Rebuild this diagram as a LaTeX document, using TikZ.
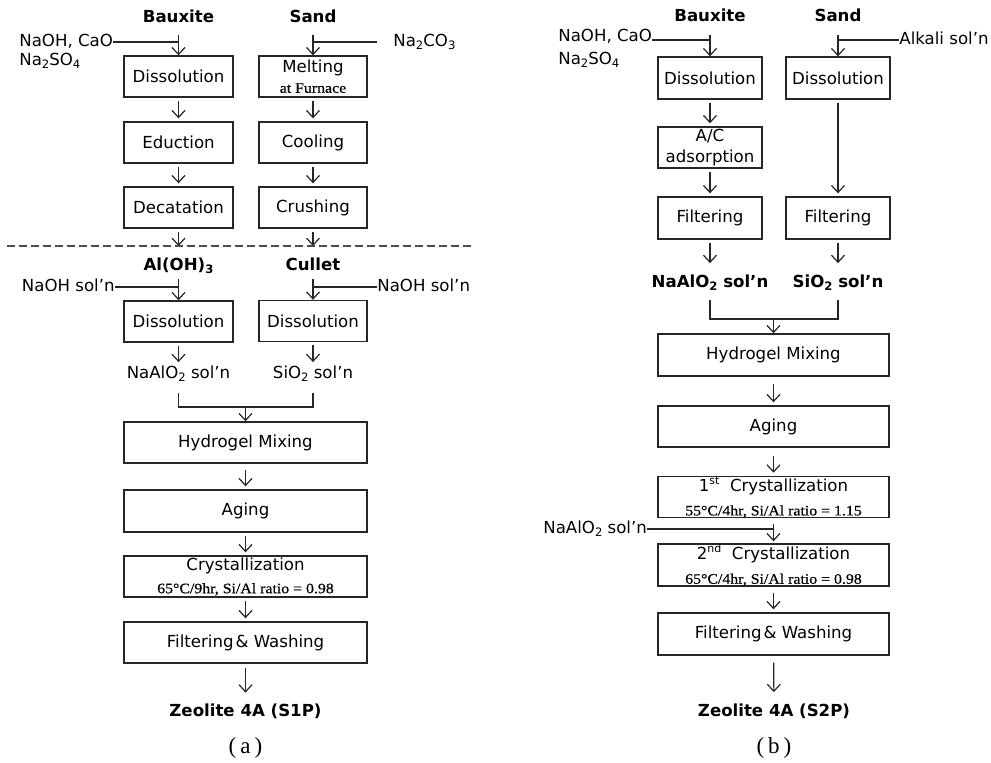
\documentclass[tikz,border=0pt]{standalone}
\usepackage{fontspec}
\setmainfont{DejaVu Sans}
\newfontfamily\serifsmall[FakeStretch=1.1,FakeBold=0.6]{Liberation Serif}
\newfontfamily\capfont{Liberation Serif}
\usetikzlibrary{arrows.meta}
\newcommand\mysub[1]{\raisebox{-0.35ex}{\fontsize{5.8}{6}\selectfont #1}}
\newcommand\mysup[1]{\raisebox{0.8ex}{\fontsize{5.5}{6}\selectfont #1}}
\newcommand\smf{\serifsmall\fontsize{7.2}{8}\selectfont}
\begin{document}
\begin{tikzpicture}[x=0.5pt,y=-0.5pt,
  font=\fontsize{8.3}{10}\selectfont,
  txt/.style={inner sep=0pt, text height=6pt, text depth=1.5pt},
  bl/.style={txt, font=\fontsize{8.3}{10}\selectfont\bfseries},
  capt/.style={inner sep=0pt, font=\capfont\fontsize{11.5}{12}\selectfont},
  box/.style={draw=black!85, line width=0.7pt, inner sep=0pt, align=center, minimum height=20.5pt},
  wA/.style={minimum width=54.5pt},
  wB/.style={minimum width=54pt},
  wH/.style={minimum width=121.5pt},
  wC/.style={minimum width=52pt},
  wK/.style={minimum width=115.5pt},
  ln/.style={line width=0.6pt, draw=black!85},
  arr/.style={line width=0.6pt, draw=black!85, -{Straight Barb[length=3.5pt,width=6.5pt]}, shorten <=1.5pt, shorten >=1.5pt},
  dashline/.style={line width=0.6pt, draw=black!70, dash pattern=on 4pt off 2pt},
]
\useasboundingbox (0,0) rectangle (991,762);

% ================= (a) =================
\node[bl] (bx1) at (178.5,18) {Bauxite};
\node[bl] (sd1) at (313,18) {Sand};
\node[txt, anchor=west] (f1) at (19,42) {NaOH, CaO};
\node[txt, anchor=west] (f1b) at (19,61) {Na\mysub{2}SO\mysub{4}};
\node[txt, anchor=west] (f2) at (393,42) {Na\mysub{2}CO\mysub{3}};
\coordinate (j1) at (178.5,42);
\coordinate (j2) at (313,42);
\node[box,wA] (a1) at (178.5,76.5) {Dissolution};
\node[box,wA] (a2) at (178.5,142.5) {Eduction};
\node[box,wA] (a3) at (178.5,207.5) {Decatation};
\node[box,wB] (b1) at (313,76.5) {Melting\\{\smf at Furnace}};
\node[box,wB] (b2) at (313,142.5) {Cooling};
\node[box,wB] (b3) at (313,207.5) {Crushing};
\draw[ln] (f1.east) -- (j1);
\draw[ln] ([xshift=-8pt]f2.west) -- (j2);
\draw[arr, shorten <=4.75pt, shorten >=0pt] (bx1) -- (a1);
\draw[arr, shorten <=4.75pt, shorten >=0pt] (sd1) -- (b1);
\draw[arr] (a1) -- (a2);
\draw[arr] (a2) -- (a3);
\draw[arr] (b1) -- (b2);
\draw[arr] (b2) -- (b3);
\coordinate (d1) at (178.5,246);
\coordinate (d2) at (313,246);
\draw[arr, shorten >=0pt] (a3) -- (d1);
\draw[arr, shorten >=0pt] (b3) -- (d2);
\coordinate (dl) at (7,246);
\coordinate (dr) at (472,246);
\draw[dashline] (dl) -- (dr);

\node[bl] (al) at (178.5,266) {Al(OH)\mysub{3}};
\node[bl] (cu) at (313,266) {Cullet};
\node[txt, anchor=east] (f3) at (115,287) {NaOH sol’n};
\node[txt, anchor=west] (f4) at (377,287) {NaOH sol’n};
\coordinate (j3) at (178.5,287);
\coordinate (j4) at (313,287);
\draw[ln] (f3.east) -- (j3);
\draw[ln] (f4.west) -- (j4);
\node[box,wA] (a4) at (178.5,321.5) {Dissolution};
\node[box,wB] (b4) at (313,321) {Dissolution};
\draw[arr, shorten <=2.5pt, shorten >=0pt] (al) -- (a4);
\draw[arr, shorten <=2.5pt, shorten >=0pt] (cu) -- (b4);
\node[txt] (n1) at (178.5,374) {NaAlO\mysub{2} sol’n};
\node[txt] (s1) at (313,374) {SiO\mysub{2} sol’n};
\draw[arr, shorten >=2pt] (a4) -- (n1);
\draw[arr, shorten >=2pt] (b4) -- (s1);
\coordinate (m1) at (178.5,407);
\coordinate (m2) at (313,407);
\coordinate (m3) at (245.5,407);
\draw[ln] ([yshift=-5.75pt]n1.south) -- (m1) -- (m2) -- ([yshift=-5.75pt]s1.south);
\node[box,wH] (h1) at (245.5,442.5) {Hydrogel Mixing};
\draw[arr, shorten <=0pt, shorten >=0pt] (m3) -- (h1);
\node[box,wH,minimum height=21pt] (g1) at (245.5,511) {Aging};
\node[box,wH] (k1) at (245.5,576.5) {Crystallization\\[1.5pt]{\smf 65°C/9hr, Si/Al ratio = 0.98}};
\node[box,wH] (w1) at (245.5,642.5) {Filtering\kern1pt\& Washing};
\draw[arr, shorten <=3pt] (h1) -- (g1);
\draw[arr] (g1) -- (k1);
\draw[arr] (k1) -- (w1);
\node[bl] (z1) at (245.5,712) {Zeolite 4A (S1P)};
\draw[arr, shorten <=2pt, shorten >=5.75pt] (w1) -- (z1);
\node[capt] (ca) at (245.5,748) {(\kern2pt a\kern2pt)};

% ================= (b) =================
\node[bl] (bx2) at (710,17) {Bauxite};
\node[bl] (sd2) at (838,17) {Sand};
\node[txt, anchor=west] (f5) at (558,37) {NaOH, CaO};
\node[txt, anchor=west] (f5b) at (558,60) {Na\mysub{2}SO\mysub{4}};
\node[txt, anchor=west] (f6) at (899,40) {Alkali sol’n};
\coordinate (j5) at (710,40);
\coordinate (j6) at (838,40);
\draw[ln] (f5.east |- j5) -- (j5);
\draw[ln] (f6.west) -- (j6);
\node[box,wC,minimum height=21pt] (c1) at (710,78) {Dissolution};
\node[box,wC] (c2) at (710,147.5) {A/C\\[0.5pt]adsorption};
\node[box,wC,minimum height=21pt] (c3) at (710,218) {Filtering};
\node[box,wC,minimum height=21pt] (e1) at (838,78) {Dissolution};
\node[box,wC,minimum height=21pt] (e3) at (838,218) {Filtering};
\draw[arr, shorten <=5pt, shorten >=0pt] (bx2) -- (c1);
\draw[arr, shorten <=5pt, shorten >=0pt] (sd2) -- (e1);
\draw[arr] (c1) -- (c2);
\draw[arr] (c2) -- (c3);
\draw[arr] (e1) -- (e3);
\node[bl] (n2) at (710,283) {NaAlO\mysub{2} sol’n};
\node[bl] (s2) at (838,283) {SiO\mysub{2} sol’n};
\draw[arr, shorten >=6pt] (c3) -- (n2);
\draw[arr, shorten >=6pt] (e3) -- (s2);
\coordinate (m4) at (710,319);
\coordinate (m5) at (838,319);
\coordinate (m6) at (773.5,319);
\draw[ln] ([yshift=-4.5pt]n2.south) -- (m4) -- (m5) -- ([yshift=-4.5pt]s2.south);
\node[box,wK,minimum height=21pt] (h2) at (773.5,355) {Hydrogel Mixing};
\draw[arr, shorten <=0pt, shorten >=0pt] (m6) -- (h2);
\node[box,wK] (g2) at (773.5,426.5) {Aging};
\node[box,wK,minimum height=20pt] (k2) at (773.5,497) {1\mysup{st}\ \ Crystallization\\[2pt]{\smf 55°C/4hr, Si/Al ratio = 1.15}};
\node[box,wK,minimum height=21pt] (k3) at (773.5,565) {2\mysup{nd}\ \ Crystallization\\[2pt]{\smf 65°C/4hr, Si/Al ratio = 0.98}};
\node[box,wK,minimum height=21pt] (w2) at (773.5,634) {Filtering\kern1pt\& Washing};
\draw[arr, shorten <=3.5pt] (h2) -- (g2);
\draw[arr, shorten <=4pt] (g2) -- (k2);
\node[txt, anchor=west] (f7) at (543,529) {NaAlO\mysub{2} sol’n};
\coordinate (j7) at (773.5,529);
\draw[ln] (f7.east) -- (j7);
\draw[arr, shorten <=3pt, shorten >=1pt] (k2) -- (k3);
\draw[arr, shorten <=3pt] (k3) -- (w2);
\node[bl] (z2) at (774,712) {Zeolite 4A (S2P)};
\draw[arr, shorten <=3.5pt, shorten >=6pt] (w2) -- (z2);
\node[capt] (cb) at (774,748) {(\kern2pt b\kern2pt)};
\end{tikzpicture}
\end{document}
